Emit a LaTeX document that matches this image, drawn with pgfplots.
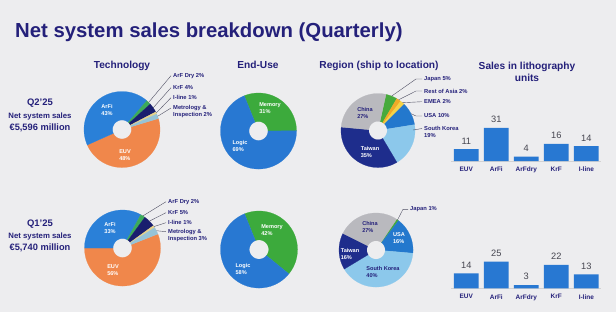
\documentclass[border=0pt]{standalone}
\usepackage{pgfplots}
\pgfplotsset{compat=1.18}
\usepgfplotslibrary{polar}
\usepackage{fontspec}
\setmainfont{Liberation Sans}
\definecolor{bg}{RGB}{237,237,239}
\definecolor{navy}{RGB}{36,32,122}
\definecolor{euv}{RGB}{240,135,75}
\definecolor{arfi}{RGB}{42,128,216}
\definecolor{arfdry}{RGB}{60,170,90}
\definecolor{krf}{RGB}{25,30,110}
\definecolor{iline}{RGB}{230,210,140}
\definecolor{metro}{RGB}{150,195,215}
\definecolor{logic}{RGB}{40,120,210}
\definecolor{memory}{RGB}{60,170,60}
\definecolor{japan}{RGB}{70,170,60}
\definecolor{roa}{RGB}{240,170,40}
\definecolor{emea}{RGB}{245,210,70}
\definecolor{usa}{RGB}{35,120,205}
\definecolor{korea}{RGB}{140,200,235}
\definecolor{taiwan}{RGB}{30,45,140}
\definecolor{china}{RGB}{185,185,190}
\definecolor{bar}{RGB}{40,120,210}
\definecolor{valc}{RGB}{70,70,80}
\definecolor{lead}{RGB}{80,80,100}

% one ring sector between radius 0.25 and 1 of a polar axis (angles in degrees)
\newcommand\sector[3]{%
  \gdef\pts{}%
  \pgfmathtruncatemacro\nseg{max(2,ceil(abs(#2-(#1))/2))}%
  \foreach \i in {0,...,\nseg}{%
    \pgfmathsetmacro\secang{#1+(#2-(#1))*(\i/\nseg)}%
    \xdef\pts{\pts(\secang,1)}}%
  \foreach \i in {\nseg,...,0}{%
    \pgfmathsetmacro\secang{#1+(#2-(#1))*(\i/\nseg)}%
    \xdef\pts{\pts(\secang,0.25)}}%
  \edef\doplot{\noexpand\addplot[fill=#3,draw=#3,line width=0.2pt] coordinates {\pts} -- cycle;}%
  \doplot}
% donut: start angle, list of percent/colour, clockwise
\newcommand\donut[2]{%
  \xdef\curang{#1}%
  \foreach \v/\c in {#2}{%
    \pgfmathsetmacro\nextang{\curang-3.6*\v}%
    \xdef\nextang{\nextang}%
    \edef\tmp{\noexpand\sector{\curang}{\nextang}{\c}}\tmp
    \xdef\curang{\nextang}}}

\pgfplotsset{pie/.style={scale only axis, hide axis, xmin=0, xmax=360, ymin=0, ymax=1, clip=false, anchor=center}}
\pgfplotsset{bars/.style={scale only axis, anchor=south west, width=150bp, height=37.45bp,
  xmin=-0.5, xmax=4.5, ymin=0, ymax=35, ybar, bar width=24.7bp,
  axis x line=bottom, axis y line=none, axis line style={-, draw=gray!35, line width=0.6pt},
  xtick=data, xticklabels={EUV,ArFi,ArFdry,KrF,I-line}, major tick length=0pt,
  xticklabel style={font=\fontsize{6.5}{7}\selectfont\bfseries, text=navy, yshift=-2.5bp},
  /pgf/number format/assume math mode=true,
  nodes near coords, nodes near coords style={font=\fontsize{9.3}{10}\selectfont, text=valc, yshift=1.5bp},
  clip=false}}

\begin{document}
\begin{tikzpicture}[x=1bp,y=1bp]
\fill[bg] (0,0) rectangle (616,-312);

% titles
\node[anchor=base west, inner sep=0, font=\fontsize{20.4}{24}\selectfont\bfseries, text=navy] at (15,-37) {Net system sales breakdown (Quarterly)};
\begin{scope}[every node/.style={anchor=base, inner sep=0, font=\fontsize{10.2}{12}\selectfont\bfseries, text=navy}]
\node at (122,-68.5) {Technology};
\node at (258,-68.5) {End-Use};
\node at (379,-68.8) {Region (ship to location)};
\node at (527,-69.8) {Sales in lithography};
\node at (527,-81.6) {units};
\end{scope}
\begin{scope}[every node/.style={anchor=base, inner sep=0, text=navy}]
\node[font=\fontsize{9.5}{11}\selectfont\bfseries] at (40,-105) {Q2'25};
\node[font=\fontsize{7.8}{9}\selectfont\bfseries] at (40,-118.3) {Net system sales};
\node[font=\fontsize{9.3}{11}\selectfont\bfseries] at (40,-130) {€5,596 million};
\node[font=\fontsize{9.5}{11}\selectfont\bfseries] at (40,-226) {Q1'25};
\node[font=\fontsize{7.8}{9}\selectfont\bfseries] at (40,-238.3) {Net system sales};
\node[font=\fontsize{9.3}{11}\selectfont\bfseries] at (40,-250.7) {€5,740 million};
\end{scope}

% Technology Q2'25
\begin{polaraxis}[pie, at={(122bp,-129.5bp)}, width=76bp, height=76bp]
\donut{16.8}{48/euv, 43/arfi, 2/arfdry, 4/krf, 1/iline, 2/metro}
\end{polaraxis}
% Technology Q1'25
\begin{polaraxis}[pie, at={(122.5bp,-248bp)}, width=76bp, height=76bp]
\donut{21.6}{56/euv, 33/arfi, 2/arfdry, 5/krf, 1/iline, 3/metro}
\end{polaraxis}
% End-use Q2'25
\begin{polaraxis}[pie, at={(258.5bp,-131bp)}, width=76bp, height=76bp]
\donut{112}{31/memory, 69/logic}
\end{polaraxis}
% End-use Q1'25
\begin{polaraxis}[pie, at={(259bp,-249.5bp)}, width=77bp, height=77bp]
\donut{112}{42/memory, 58/logic}
\end{polaraxis}
% Region Q2'25
\begin{polaraxis}[pie, at={(378bp,-130.5bp)}, width=74bp, height=74bp]
\donut{77.5}{5/japan, 2/roa, 2/emea, 10/usa, 19/korea, 35/taiwan, 27/china}
\end{polaraxis}
% Region Q1'25
\begin{polaraxis}[pie, at={(376bp,-250bp)}, width=74bp, height=74bp]
\donut{56.2}{1/japan, 16/usa, 40/korea, 16/taiwan, 27/china}
\end{polaraxis}

% labels inside the rings
\begin{scope}[every node/.style={align=left, inner sep=0, font=\fontsize{5.6}{6.4}\selectfont\bfseries, text=white}]
\node at (107,-110) {ArFi\\43\%};
\node at (125,-155) {EUV\\48\%};
\node at (110,-228) {ArFi\\33\%};
\node at (113,-270) {EUV\\56\%};
\node at (270,-108) {Memory\\31\%};
\node at (240,-146) {Logic\\69\%};
\node at (272,-230) {Memory\\42\%};
\node at (243,-269) {Logic\\58\%};
\node[text=navy] at (365,-113) {China\\27\%};
\node at (370,-152) {Taiwan\\35\%};
\node[text=navy] at (370,-227) {China\\27\%};
\node at (399,-238) {USA\\16\%};
\node at (350,-254) {Taiwan\\16\%};
\node[text=navy] at (383,-272) {South Korea\\40\%};
\end{scope}

% leader labels
\begin{scope}[every node/.style={anchor=west, inner sep=0, align=left, font=\fontsize{5.8}{7}\selectfont\bfseries, text=navy}]
\node at (173,-75.7) {ArF Dry 2\%};
\node at (173,-87.7) {KrF 4\%};
\node at (173,-97.7) {I-line 1\%};
\node at (173,-111.3) {Metrology \&\\Inspection 2\%};
\node at (168,-201.7) {ArF Dry 2\%};
\node at (168,-212.7) {KrF 5\%};
\node at (168,-222.7) {I-line 1\%};
\node at (168,-235.3) {Metrology \&\\Inspection 3\%};
\node at (424,-79) {Japan 5\%};
\node at (424,-91) {Rest of Asia 2\%};
\node at (424,-101.7) {EMEA 2\%};
\node at (424,-116) {USA 10\%};
\node at (424,-131.5) {South Korea\\19\%};
\node at (410,-209.3) {Japan 1\%};
\end{scope}
\begin{scope}[lead, line width=0.4pt]
\draw (171,-75.7) -- (148.6,-102.4);
\draw (171,-87.7) -- (153.2,-107.8);
\draw (171,-97.7) -- (156.2,-113);
\draw (171,-108) -- (157.6,-116.3);
\draw (166,-201.7) -- (142.9,-215.9);
\draw (166,-212.7) -- (149.4,-221.1);
\draw (166,-222.7) -- (153.9,-226.6);
\draw (166,-231.7) -- (156.4,-230.7);
\draw (422,-79) -- (416,-79) -- (391.6,-96.1);
\draw (422,-91) -- (416,-91) -- (398.6,-99.8);
\draw (422,-101.7) -- (402.4,-102.7);
\draw (422,-116) -- (416,-116) -- (410.9,-113.6);
\draw (422,-128.5) -- (413,-130);
\draw (408,-209.3) -- (403,-209.3) -- (397.5,-219.9);
\end{scope}

% bar charts
\begin{axis}[bars, at={(451.3bp,-161bp)}]
\addplot[fill=bar, draw=none] coordinates {(0,11) (1,31) (2,4) (3,16) (4,14)};
\end{axis}
\begin{axis}[bars, at={(451.3bp,-288.3bp)}]
\addplot[fill=bar, draw=none] coordinates {(0,14) (1,25) (2,3) (3,22) (4,13)};
\end{axis}
\end{tikzpicture}
\end{document}
